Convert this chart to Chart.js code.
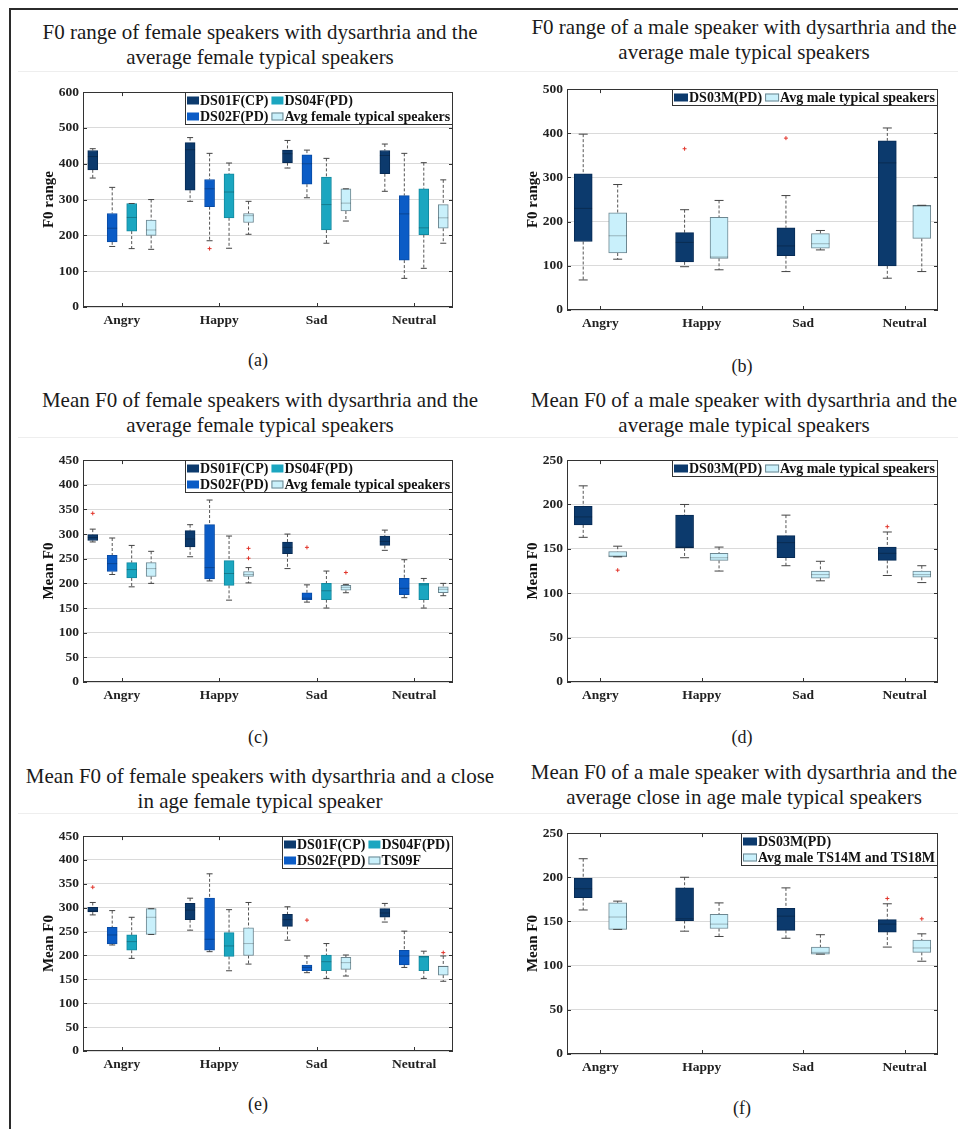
<!DOCTYPE html>
<html>
<head>
<meta charset="utf-8">
<script src="https://cdn.jsdelivr.net/npm/chart.js@4.4.1/dist/chart.umd.min.js"></script>
<style>
  body { margin: 0; width: 958px; height: 1129px; overflow: hidden; background: #fff; position: relative; font-family: 'Liberation Serif', 'Times New Roman', serif; }
  .edgeTop { position: absolute; left: 9px; top: 8px; width: 949px; height: 2px; background: #2b2b2b; }
  .edgeLeft { position: absolute; left: 9px; top: 8px; width: 2px; height: 1121px; background: #2b2b2b; }
  .rule { position: absolute; height: 1px; background: #eeeeee; }
  .title { position: absolute; transform: translateX(-50%); white-space: nowrap; text-align: center; font-size: 21px; line-height: 25px; color: #1a1a1a; }
  .tag { position: absolute; transform: translate(-50%, -50%); font-size: 18px; color: #1a1a1a; }
  canvas { position: absolute; }
</style>
</head>
<body>
<div class="edgeTop"></div>
<div class="edgeLeft"></div>
<div class="rule" style="left:18px;top:71px;width:940px"></div>
<div class="rule" style="left:18px;top:437px;width:940px"></div>
<div class="rule" style="left:18px;top:813px;width:940px"></div>

<div class="title" style="left:260px;top:19.5px">F0 range of female speakers with dysarthria and the<br>average female typical speakers</div>
<div class="title" style="left:744px;top:15px">F0 range of a male speaker with dysarthria and the<br>average male typical speakers</div>
<div class="title" style="left:260px;top:387.5px">Mean F0 of female speakers with dysarthria and the<br>average female typical speakers</div>
<div class="title" style="left:744px;top:387.5px">Mean F0 of a male speaker with dysarthria and the<br>average male typical speakers</div>
<div class="title" style="left:260px;top:763.5px">Mean F0 of female speakers with dysarthria and a close<br>in age female typical speaker</div>
<div class="title" style="left:744px;top:759.5px">Mean F0 of a male speaker with dysarthria and the<br>average close in age male typical speakers</div>

<canvas id="chartA" width="446" height="260" style="left:17px;top:80px"></canvas>
<canvas id="chartB" width="447" height="266" style="left:501px;top:77px"></canvas>
<canvas id="chartC" width="446" height="267" style="left:17px;top:448px"></canvas>
<canvas id="chartD" width="447" height="267" style="left:501px;top:448px"></canvas>
<canvas id="chartE" width="446" height="260" style="left:17px;top:824px"></canvas>
<canvas id="chartF" width="447" height="266" style="left:501px;top:821px"></canvas>

<div class="tag" style="left:258px;top:360px">(a)</div>
<div class="tag" style="left:742px;top:366px">(b)</div>
<div class="tag" style="left:258px;top:737px">(c)</div>
<div class="tag" style="left:742px;top:737px">(d)</div>
<div class="tag" style="left:258px;top:1104px">(e)</div>
<div class="tag" style="left:742px;top:1108px">(f)</div>

<script>
const emotions = ['Angry', 'Happy', 'Sad', 'Neutral'];

// each series: [min, q1, median, q3, max] for Angry, Happy, Sad, Neutral
// outliers: [series, emotion, value]

// (a) F0 range, female speakers
const aLabels = ['DS01F(CP)', 'DS02F(PD)', 'DS04F(PD)', 'Avg female typical speakers'];
const aDS01F = [[360, 383, 420, 437, 442], [295, 326, 439, 459, 473], [388, 403, 428, 438, 465], [323, 372, 423, 437, 455]];
const aDS02F = [[169, 182, 220, 261, 334], [185, 280, 330, 356, 429], [305, 343, 400, 425, 438], [80, 131, 260, 311, 429]];
const aDS04F = [[163, 212, 250, 289, 289], [164, 249, 321, 372, 402], [178, 215, 286, 363, 415], [108, 202, 221, 330, 403]];
const aAvgF = [[161, 200, 215, 243, 300], [203, 236, 255, 261, 295], [240, 268, 290, 330, 330], [178, 220, 249, 286, 355]];
const aOutliers = [[1, 1, 163]];

// (b) F0 range, male speaker
const bLabels = ['DS03M(PD)', 'Avg male typical speakers'];
const bDS03M = [[68, 155, 230, 308, 398], [98, 109, 153, 175, 227], [87, 123, 145, 186, 259], [72, 100, 333, 383, 412]];
const bAvgM = [[115, 129, 168, 220, 284], [91, 117, 120, 210, 248], [136, 140, 150, 173, 180], [87, 162, 235, 237, 237]];
const bOutliers = [[0, 1, 365], [0, 2, 389]];

// (c) Mean F0, female speakers
const cLabels = ['DS01F(CP)', 'DS02F(PD)', 'DS04F(PD)', 'Avg female typical speakers'];
const cDS01F = [[284, 287, 293, 299, 310], [254, 274, 290, 307, 319], [230, 260, 273, 284, 300], [267, 277, 285, 296, 308]];
const cDS02F = [[218, 224, 240, 257, 292], [205, 209, 232, 319, 369], [162, 167, 170, 181, 197], [171, 177, 190, 210, 248]];
const cDS04F = [[193, 211, 228, 242, 277], [166, 196, 220, 246, 296], [150, 167, 185, 200, 225], [150, 167, 197, 200, 210]];
const cAvgF = [[200, 214, 230, 242, 265], [201, 214, 218, 224, 232], [181, 186, 192, 196, 198], [175, 181, 188, 193, 200]];
const cOutliers = [[0, 0, 342], [3, 1, 271], [3, 1, 251], [1, 2, 273], [3, 2, 222]];

// (d) Mean F0, male speaker
const dLabels = ['DS03M(PD)', 'Avg male typical speakers'];
const dDS03M = [[163, 177, 186, 198, 221], [140, 151, 152, 188, 200], [131, 140, 157, 165, 188], [120, 137, 145, 152, 169]];
const dAvgM = [[141, 141, 142, 147, 153], [125, 137, 140, 145, 152], [114, 117, 121, 125, 136], [112, 118, 121, 125, 131]];
const dOutliers = [[1, 0, 126], [0, 3, 175]];

// (e) Mean F0, female speakers vs. close in age typical speaker
const eLabels = ['DS01F(CP)', 'DS02F(PD)', 'DS04F(PD)', 'TS09F'];
const eDS01F = [[285, 291, 293, 301, 311], [253, 275, 295, 309, 320], [232, 261, 275, 286, 302], [270, 280, 289, 298, 309]];
const eDS02F = [[222, 224, 243, 259, 294], [208, 211, 234, 320, 371], [164, 168, 175, 180, 199], [175, 180, 199, 211, 251]];
const eDS04F = [[194, 211, 229, 243, 280], [168, 198, 220, 248, 296], [152, 168, 187, 201, 225], [152, 168, 197, 199, 209]];
const eTS09F = [[244, 244, 280, 298, 298], [182, 200, 225, 258, 311], [157, 171, 185, 196, 201], [146, 159, 177, 178, 199]];
const eOutliers = [[0, 0, 343], [1, 2, 274], [3, 3, 206]];

// (f) Mean F0, male speaker vs. close in age typical speakers
const fLabels = ['DS03M(PD)', 'Avg male TS14M and TS18M'];
const fDS03M = [[163, 177, 187, 199, 221], [139, 151, 153, 188, 200], [131, 140, 156, 165, 188], [121, 138, 147, 152, 170]];
const fAvgM = [[141, 141, 155, 171, 173], [133, 142, 147, 158, 171], [113, 113, 115, 121, 135], [105, 115, 120, 129, 136]];
const fOutliers = [[0, 3, 176], [1, 3, 153]];

const navy = '#0c3a6d', blue = '#0b5cc6', teal = '#1ba6c0', pale = '#c9f0fb';
const femaleFill = [navy, blue, teal, pale];
const femaleEdge = ['#072b55', '#084ba5', '#13899f', '#6c8690'];
const maleFill = [navy, pale];
const maleEdge = ['#072b55', '#6c8690'];

Chart.defaults.font.family = "'Liberation Serif', 'Times New Roman', serif";
Chart.defaults.color = '#222';

// plot box with inward tick marks, like the original figure
const framePlugin = {
  id: 'frame',
  afterDatasetsDraw(chart) {
    const { ctx, chartArea: a, scales } = chart;
    ctx.save();
    ctx.strokeStyle = '#333';
    ctx.lineWidth = 1;
    ctx.strokeRect(Math.round(a.left) + 0.5, Math.round(a.top) + 0.5, Math.round(a.width) - 1, Math.round(a.height) - 1);
    ctx.beginPath();
    scales.y.ticks.forEach(t => {
      const y = Math.round(scales.y.getPixelForValue(t.value)) + 0.5;
      ctx.moveTo(a.left, y); ctx.lineTo(a.left + 4, y);
      ctx.moveTo(a.right, y); ctx.lineTo(a.right - 4, y);
    });
    scales.x.ticks.forEach(t => {
      const x = Math.round(scales.x.getPixelForValue(t.value)) + 0.5;
      ctx.moveTo(x, a.bottom); ctx.lineTo(x, a.bottom - 4);
      ctx.moveTo(x, a.top); ctx.lineTo(x, a.top + 4);
    });
    ctx.stroke();
    ctx.restore();
  }
};

// boxed legend in the top right corner, filled column by column
const boxLegendPlugin = {
  id: 'boxLegend',
  afterDraw(chart, args, opts) {
    const { ctx, chartArea: a } = chart;
    const items = chart.data.datasets.filter(d => d.type === 'bar');
    const rows = Math.ceil(items.length / opts.columns);
    ctx.save();
    ctx.font = "bold 14px 'Liberation Serif', serif";
    const colW = [];
    items.forEach((d, i) => {
      const c = Math.floor(i / rows);
      colW[c] = Math.max(colW[c] || 0, opts.swatch + 1 + ctx.measureText(d.label).width + 3);
    });
    const w = Math.round(2 + colW.reduce((p, q) => p + q, 0));
    const h = rows * 16 + 1;
    const left = Math.round(a.right) - w, top = Math.round(a.top);
    ctx.fillStyle = '#fff';
    ctx.fillRect(left, top, w, h);
    ctx.strokeStyle = '#333';
    ctx.lineWidth = 1;
    ctx.strokeRect(left + 0.5, top + 0.5, w - 1, h - 1);
    ctx.textBaseline = 'middle';
    items.forEach((d, i) => {
      const c = Math.floor(i / rows), r = i % rows;
      const x = left + 2 + colW.slice(0, c).reduce((p, q) => p + q, 0);
      const y = top + 8.5 + r * 16;
      ctx.fillStyle = d.backgroundColor;
      ctx.fillRect(x, y - 4, opts.swatch, 8);
      if (d.backgroundColor === pale) {
        ctx.strokeStyle = '#6c8690';
        ctx.strokeRect(x + 0.5, y - 3.5, opts.swatch - 1, 7);
      }
      ctx.fillStyle = '#111';
      ctx.fillText(d.label, x + opts.swatch + 1, y + 1);
    });
    ctx.restore();
  }
};

function boxChart(id, o) {
  const datasets = [];
  const caps = [], medians = [];
  o.series.forEach((stats, s) => {
    const off = o.offsets[s];
    datasets.push({
      type: 'bar',
      label: o.labels[s],
      data: stats.map((v, c) => ({ x: c + 1 + off, y: [v[1], v[3]] })),
      backgroundColor: o.fills[s],
      borderColor: o.edges[s],
      borderWidth: 1,
      borderSkipped: false,
      barThickness: o.boxW,
      grouped: false,
      order: 3
    });
    const whiskers = [];
    stats.forEach((v, c) => {
      const x = c + 1 + off;
      whiskers.push({ x, y: v[4] }, { x, y: v[3] }, { x, y: null }, { x, y: v[1] }, { x, y: v[0] }, { x, y: null });
      caps.push({ x, y: v[0] }, { x, y: v[4] });
      medians.push({ x, y: v[2] });
    });
    datasets.push({
      type: 'line', data: whiskers, borderColor: '#555', borderWidth: 1, borderDash: [3, 2],
      pointRadius: 0, spanGaps: false, order: 4
    });
  });
  datasets.push({
    type: 'line', data: caps, showLine: false, pointStyle: 'line', pointRadius: o.capR,
    pointBorderColor: '#444', pointBorderWidth: 1, order: 2
  });
  datasets.push({
    type: 'line', data: medians, showLine: false, pointStyle: 'line', pointRadius: o.boxW / 2,
    pointBorderColor: 'rgba(0,0,0,0.25)', pointBorderWidth: 1, order: 1
  });
  datasets.push({
    type: 'line', data: o.outliers.map(p => ({ x: p[1] + 1 + o.offsets[p[0]], y: p[2] })),
    showLine: false, pointStyle: 'cross', pointRadius: 2,
    pointBorderColor: '#e2352b', pointBorderWidth: 1, order: 0
  });

  const tickFont = { size: 13.5, weight: 'bold' };
  return new Chart(document.getElementById(id), {
    type: 'bar',
    data: { datasets },
    plugins: [framePlugin, boxLegendPlugin],
    options: {
      responsive: false,
      devicePixelRatio: 1,
      animation: false,
      events: [],
      layout: { padding: { top: 10, right: 10, bottom: 0, left: 0 } },
      plugins: {
        legend: { display: false },
        tooltip: { enabled: false },
        boxLegend: { columns: o.columns, swatch: o.swatch }
      },
      scales: {
        x: {
          type: 'linear', min: o.xMin, max: o.xMax, offset: false,
          grid: { display: false, drawTicks: false, offset: false },
          border: { display: false },
          afterBuildTicks: s => { s.ticks = emotions.map((e, i) => ({ value: i + 1 })); },
          afterFit: s => { s.height = 33; },
          ticks: { autoSkip: false, maxRotation: 0, padding: 5, font: tickFont, color: '#222',
                   callback: v => emotions[v - 1] }
        },
        y: {
          type: 'linear', min: 0, max: o.yMax,
          grid: { color: '#dadada', drawTicks: false },
          border: { display: false },
          afterFit: s => { s.width = 66; },
          ticks: { stepSize: o.yStep, padding: 4, font: tickFont, color: '#222' },
          title: { display: true, text: o.yTitle, color: '#111',
                   font: { size: 15, weight: 'bold' }, padding: { top: 23, bottom: 0 } }
        }
      }
    }
  });
}

const femaleLayout = { offsets: [-0.3, -0.1, 0.1, 0.3], boxW: 10, capR: 3, xMin: 0.6, xMax: 4.4,
                       fills: femaleFill, edges: femaleEdge, columns: 2, swatch: 12 };
const maleLayout = { offsets: [-0.17, 0.17], boxW: 18, capR: 4.5, xMin: 0.67, xMax: 4.33,
                     fills: maleFill, edges: maleEdge, columns: 2, swatch: 14 };

boxChart('chartA', Object.assign({}, femaleLayout, {
  labels: aLabels, series: [aDS01F, aDS02F, aDS04F, aAvgF], outliers: aOutliers,
  yMax: 600, yStep: 100, yTitle: 'F0 range' }));
boxChart('chartB', Object.assign({}, maleLayout, {
  labels: bLabels, series: [bDS03M, bAvgM], outliers: bOutliers,
  yMax: 500, yStep: 100, yTitle: 'F0 range' }));
boxChart('chartC', Object.assign({}, femaleLayout, {
  labels: cLabels, series: [cDS01F, cDS02F, cDS04F, cAvgF], outliers: cOutliers,
  yMax: 450, yStep: 50, yTitle: 'Mean F0' }));
boxChart('chartD', Object.assign({}, maleLayout, {
  labels: dLabels, series: [dDS03M, dAvgM], outliers: dOutliers,
  yMax: 250, yStep: 50, yTitle: 'Mean F0' }));
boxChart('chartE', Object.assign({}, femaleLayout, {
  labels: eLabels, series: [eDS01F, eDS02F, eDS04F, eTS09F], outliers: eOutliers,
  yMax: 450, yStep: 50, yTitle: 'Mean F0' }));
boxChart('chartF', Object.assign({}, maleLayout, {
  labels: fLabels, series: [fDS03M, fAvgM], outliers: fOutliers, columns: 1,
  yMax: 250, yStep: 50, yTitle: 'Mean F0' }));
</script>
</body>
</html>
